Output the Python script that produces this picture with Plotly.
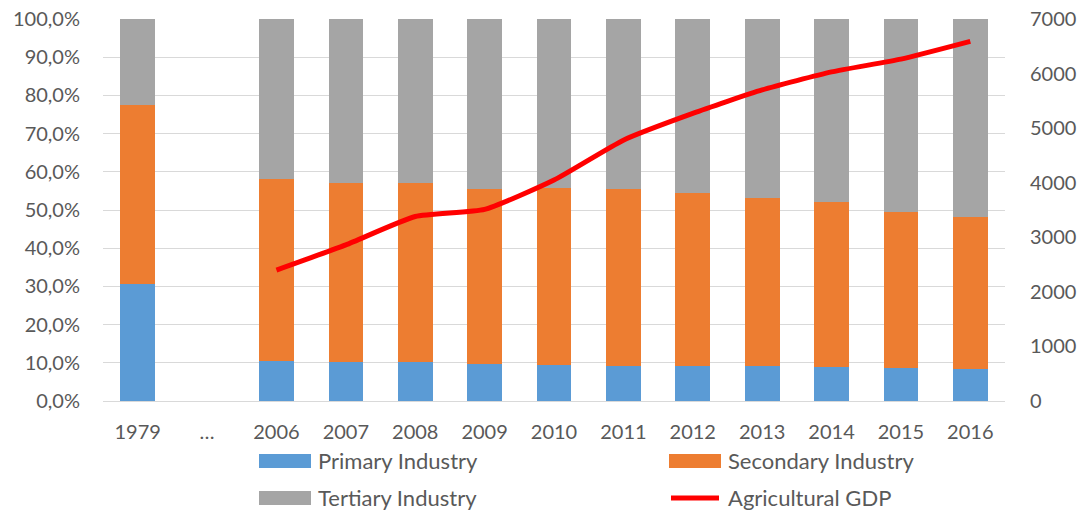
import plotly.graph_objects as go

categories = ["1979", "…", "2006", "2007", "2008", "2009", "2010", "2011",
              "2012", "2013", "2014", "2015", "2016"]
primary = [0.306, None, 0.105, 0.101, 0.101, 0.096, 0.093, 0.092, 0.092, 0.091, 0.090, 0.086, 0.085]
secondary = [0.470, None, 0.475, 0.471, 0.471, 0.460, 0.465, 0.464, 0.453, 0.441, 0.432, 0.410, 0.397]
tertiary = [0.224, None, 0.420, 0.428, 0.428, 0.444, 0.442, 0.444, 0.455, 0.468, 0.478, 0.504, 0.518]
gdp_years = ["2006", "2007", "2008", "2009", "2010", "2011", "2012", "2013", "2014", "2015", "2016"]
gdp = [2400, 2860, 3380, 3510, 4050, 4780, 5270, 5700, 6030, 6265, 6590]

series_names = ["Primary Industry", "Secondary Industry", "Tertiary Industry", "Agricultural GDP"]
colors = ["#5B9BD5", "#ED7D31", "#A5A5A5", "#FF0000"]

FONT = "Lato"
TXT = "#595959"
GRID = "#D9D9D9"

fig = go.Figure()
for vals, name, col in zip([primary, secondary, tertiary], series_names[:3], colors[:3]):
    fig.add_trace(go.Bar(x=categories, y=vals, name=name, marker=dict(color=col, line=dict(width=0)),
                         showlegend=False))
fig.add_trace(go.Scatter(x=gdp_years, y=gdp, name=series_names[3], yaxis="y2", mode="lines",
                         line=dict(color=colors[3], width=5, shape="spline", smoothing=0.5),
                         showlegend=False))

# plot-area geometry in page pixels
L, R, T, B = 103, 1005, 19, 401
W, H = 1081, 511
def px(x):
    return (x - L) / (R - L)
def py(y):
    return (B - y) / (B - T)

shapes = []
annotations = []
legend_items = [
    (259, 461, 316, series_names[0], colors[0], "rect"),
    (669, 461, 726, series_names[1], colors[1], "rect"),
    (259, 498, 316, series_names[2], colors[2], "rect"),
    (669, 498, 726, series_names[3], colors[3], "line"),
]
for sx, cy, tx, name, col, kind in legend_items:
    if kind == "rect":
        shapes.append(dict(type="rect", xref="paper", yref="paper", x0=px(sx), x1=px(sx + 52),
                           y0=py(cy + 7), y1=py(cy - 7), fillcolor=col, line=dict(width=0)))
    else:
        shapes.append(dict(type="line", xref="paper", yref="paper", x0=px(sx + 2), x1=px(sx + 50),
                           y0=py(cy), y1=py(cy), line=dict(color=col, width=5)))
    annotations.append(dict(text=name, xref="paper", yref="paper", x=px(tx), y=py(cy - 1),
                            xanchor="left", yanchor="middle", showarrow=False,
                            font=dict(family=FONT, size=22, color=TXT)))

fig.update_layout(
    width=W, height=H,
    margin=dict(l=L, r=W - R, t=T, b=H - B, autoexpand=False),
    paper_bgcolor="white", plot_bgcolor="white",
    barmode="stack", bargap=0.5,
    separators=",.",
    font=dict(family=FONT, size=20, color=TXT),
    xaxis=dict(type="category", categoryorder="array", categoryarray=categories,
               showgrid=False, showline=False, ticks="", ticklabelstandoff=17,
               tickfont=dict(family=FONT, size=20, color=TXT)),
    yaxis=dict(range=[0, 1], dtick=0.1, tickformat=".1%", showgrid=True, gridcolor=GRID, gridwidth=1.3,
               zeroline=True, zerolinecolor=GRID, zerolinewidth=1.3, showline=False, ticks="",
               ticklabelstandoff=22, ticklabeloverflow="allow",
               tickfont=dict(family=FONT, size=20, color=TXT)),
    yaxis2=dict(range=[0, 7000], dtick=1000, overlaying="y", side="right", showgrid=False,
                zeroline=False, showline=False, ticks="", tickformat="d", ticklabelstandoff=24,
                ticklabeloverflow="allow",
                tickfont=dict(family=FONT, size=20, color=TXT)),
    shapes=shapes, annotations=annotations,
)

fig.write_html("out.html", config={"displayModeBar": False},
               post_script="document.body.style.margin='0px';document.body.style.overflow='hidden';")
